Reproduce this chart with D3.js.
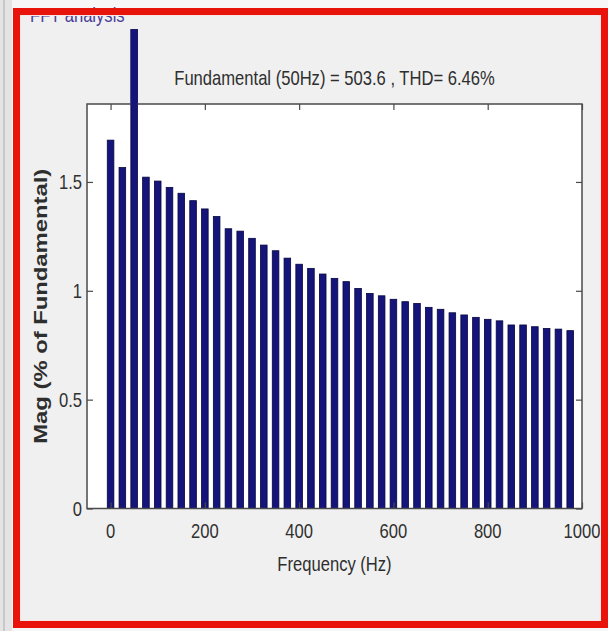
<!DOCTYPE html>
<html>
<head>
<meta charset="utf-8">
<script src="https://cdn.jsdelivr.net/npm/d3@7"></script>
<style>
  html, body { margin: 0; padding: 0; background: #ffffff; }
  svg { display: block; }
  text { font-family: "Liberation Sans", Arial, sans-serif; }
</style>
</head>
<body>
<svg id="chart" width="608" height="631"></svg>
<script>
// Harmonic spectrum (25 Hz resolution)
const freqs = [0, 25, 50, 75, 100, 125, 150, 175, 200, 225,
               250, 275, 300, 325, 350, 375, 400, 425, 450, 475,
               500, 525, 550, 575, 600, 625, 650, 675, 700, 725,
               750, 775, 800, 825, 850, 875, 900, 925, 950, 975];
const mags = [1.692, 1.566, 2.20, 1.522, 1.504, 1.475, 1.448, 1.414, 1.376, 1.341,
              1.285, 1.274, 1.241, 1.210, 1.184, 1.150, 1.122, 1.103, 1.077, 1.057,
              1.042, 1.011, 0.988, 0.977, 0.961, 0.950, 0.942, 0.924, 0.915, 0.899,
              0.889, 0.878, 0.869, 0.862, 0.843, 0.843, 0.835, 0.827, 0.824, 0.817];
const xTicks = [0, 200, 400, 600, 800, 1000];
const yTicks = [0, 0.5, 1, 1.5];
const windowTitle = "FFT analysis";
const chartTitle = "Fundamental (50Hz) = 503.6 , THD= 6.46%";
const xLabel = "Frequency (Hz)";
const yLabel = "Mag (% of Fundamental)";

const svg = d3.select("#chart");
const W = 608, H = 631;
const box = { left: 87, right: 582, top: 104, bottom: 508.5 };
const NARROW = 0.83;   // horizontal squeeze for the condensed labels

// condensed text placed at (px, py)
function narrowText(parent, px, py, str, opts) {
  const g = parent.append("g").attr("transform", `translate(${px},${py}) scale(${NARROW},1)`);
  return g.append("text")
    .attr("text-anchor", opts.anchor || "middle")
    .attr("font-size", opts.size || 20)
    .attr("fill", opts.fill || "#2e2e2e")
    .text(str);
}

// page strip outside the frame
svg.append("rect").attr("x", 0).attr("y", 0).attr("width", W).attr("height", H).attr("fill", "#f7f7f7");
svg.append("rect").attr("x", 0).attr("y", 0).attr("width", 12).attr("height", H).attr("fill", "#e4e4e4");
svg.append("rect").attr("x", 3).attr("y", 0).attr("width", 2).attr("height", H).attr("fill", "#c8c8c8");

// figure background
svg.append("rect").attr("x", 13).attr("y", 8).attr("width", 595).attr("height", 620).attr("fill", "#f0f0f0");

const x = d3.scaleLinear().domain([-50, 1000]).range([box.left, box.right]);
const y = d3.scaleLinear().domain([0, 1.858]).range([box.bottom, box.top]);

// axes area
svg.append("rect")
  .attr("x", box.left).attr("y", box.top)
  .attr("width", box.right - box.left).attr("height", box.bottom - box.top)
  .attr("fill", "#ffffff");

// bars
const bw = x(25 * 0.56) - x(0);
svg.append("g").selectAll("rect").data(freqs).join("rect")
  .attr("x", (d) => x(d) - bw / 2)
  .attr("y", (d, i) => y(mags[i]))
  .attr("width", bw)
  .attr("height", (d, i) => y(0) - y(mags[i]))
  .attr("fill", "#14147a")
  .attr("stroke", "#06063e")
  .attr("stroke-width", 0.8);

// axes with inward ticks on all four sides (labels drawn separately)
const axisColor = "#4a4a4a";
function styleAxis(g) {
  g.select(".domain").remove();
  g.selectAll(".tick line").attr("stroke", axisColor).attr("stroke-width", 1.2);
  g.selectAll(".tick text").remove();
}
svg.append("g").attr("transform", `translate(0,${box.bottom})`)
  .call(d3.axisBottom(x).tickValues(xTicks).tickSize(-6)).call(styleAxis);
svg.append("g").attr("transform", `translate(0,${box.top})`)
  .call(d3.axisTop(x).tickValues(xTicks).tickSize(-6)).call(styleAxis);
svg.append("g").attr("transform", `translate(${box.left},0)`)
  .call(d3.axisLeft(y).tickValues(yTicks).tickSize(-6)).call(styleAxis);
svg.append("g").attr("transform", `translate(${box.right},0)`)
  .call(d3.axisRight(y).tickValues(yTicks).tickSize(-6)).call(styleAxis);

// tick labels
const tickLabels = svg.append("g");
xTicks.forEach((t) => narrowText(tickLabels, x(t), box.bottom + 29, d3.format("d")(t), { size: 20, fill: "#303030" }));
yTicks.forEach((t) => narrowText(tickLabels, box.left - 5, y(t) + 7, String(t), { size: 20, fill: "#303030", anchor: "end" }));

// frame of the axes (the fundamental bar is drawn over the top edge)
svg.append("rect")
  .attr("x", box.left).attr("y", box.top)
  .attr("width", box.right - box.left).attr("height", box.bottom - box.top)
  .attr("fill", "none").attr("stroke", axisColor).attr("stroke-width", 1.5);
svg.append("rect")
  .attr("x", x(freqs[2]) - bw / 2).attr("y", y(mags[2]))
  .attr("width", bw).attr("height", box.top + 2 - y(mags[2]))
  .attr("fill", "#14147a");

// titles
narrowText(svg, (box.left + box.right) / 2, 85, chartTitle, { size: 20 });
narrowText(svg, (box.left + box.right) / 2, 571, xLabel, { size: 20 });
svg.append("text")
  .attr("transform", `translate(47,${(box.top + box.bottom) / 2}) rotate(-90)`)
  .attr("text-anchor", "middle")
  .attr("font-weight", "bold").attr("font-size", 19).attr("fill", "#2e2e2e")
  .attr("textLength", 275).attr("lengthAdjust", "spacingAndGlyphs")
  .text(yLabel);

// window caption, partly hidden under the red frame
narrowText(svg, 30, 22, windowTitle, { size: 20, fill: "#4b3f98", anchor: "start" });

// red highlight frame
svg.append("rect")
  .attr("x", 16.5).attr("y", 11.5).attr("width", 588).attr("height", 613)
  .attr("fill", "none").attr("stroke", "#e8140c").attr("stroke-width", 7);
svg.append("rect")
  .attr("x", 20.5).attr("y", 15.5).attr("width", 580).attr("height", 605)
  .attr("fill", "none").attr("stroke", "#f7e6e6").attr("stroke-width", 1);
</script>
</body>
</html>
